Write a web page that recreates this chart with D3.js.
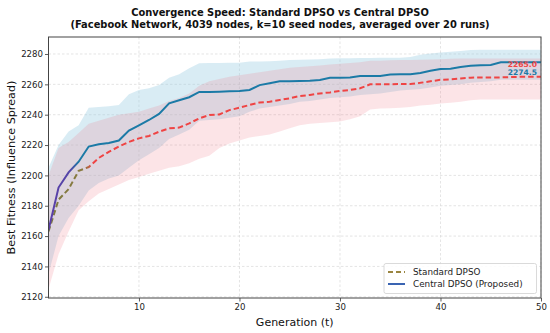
<!DOCTYPE html>
<html><head><meta charset="utf-8">
<script src="https://cdn.jsdelivr.net/npm/d3@7"></script>
<style>body{margin:0;background:#fff}svg{display:block;font-family:"DejaVu Sans",sans-serif}</style>
</head><body><svg id="c" width="550" height="333"></svg>
<script>
const generations = d3.range(1, 51);
const standardMean = [2163,2184,2191,2203,2205.5,2211.5,2215.5,2219,2222,2224.4,2226,2228.8,2231,2231.5,2234.3,2237.6,2239.8,2240.2,2243,2244.6,2246.4,2248,2248.6,2249.7,2250.8,2252.3,2253,2254,2254.7,2255.6,2256.3,2257.4,2260,2260,2260,2260.2,2260.2,2261,2262,2263,2263.3,2263.8,2264.4,2264.5,2264.5,2264.6,2264.8,2265,2265,2265];
const standardUpper = [2200,2218,2222,2228,2234,2236,2238,2240,2241,2242,2244,2246,2249,2251,2254,2259,2262,2263.5,2265,2266,2267,2268,2269,2270,2271,2271.5,2272,2272.5,2273,2273.5,2274,2274.5,2275.5,2275.6,2275.8,2276,2276,2276.2,2276.4,2276.6,2276.8,2277,2277,2277,2277,2277,2277,2277,2277,2277];
const standardLower = [2125,2148,2163,2177,2183,2188,2191,2194,2197,2199,2201,2203,2205,2206,2208,2211,2213,2218,2221,2223,2225,2226,2227,2229,2231,2233,2234,2234.5,2235,2235.5,2237,2239,2243.5,2244,2244.2,2244.5,2245,2246,2246.5,2247.3,2247.8,2248.5,2249.5,2250,2250,2250,2250,2250,2250,2250];
const centralMean = [2164,2192,2202,2209,2219,2220.5,2221.3,2223,2229.5,2233,2236.5,2240.5,2247.5,2249.5,2251.5,2255,2255,2255.2,2255.5,2255.6,2256.3,2259.5,2260.7,2262,2262,2262.2,2262.4,2262.8,2264.3,2264.4,2264.5,2265.5,2265.5,2265.5,2266.5,2266.6,2266.6,2267.5,2269,2270.1,2270.3,2271.5,2272.3,2272.6,2272.8,2274.5,2274.5,2274.5,2274.5,2274.5];
const centralUpper = [2205,2220,2229,2233,2244.6,2245,2245.5,2246.4,2253.4,2256.3,2257.4,2259.6,2264.4,2266.6,2270.6,2273.9,2274,2274.1,2274.2,2274.3,2275,2275,2275.2,2275.5,2276,2276.2,2276.4,2276.6,2277,2277.2,2277.2,2277.3,2277.4,2277.5,2277.5,2277.6,2278,2279.5,2280.4,2281,2281.5,2282,2282.6,2282.8,2282.8,2282.8,2282.8,2282.8,2282.8,2282.8];
const centralLower = [2135,2160,2172,2180,2190,2195,2198,2200,2205,2210,2214,2218,2224,2227,2230,2236,2236.5,2237,2238,2239,2242,2244,2245,2246,2247,2248.5,2249,2250,2251,2251.5,2252,2253,2253.5,2254,2255,2256,2256.5,2257,2258,2259,2259.5,2260,2261,2261.5,2262,2263,2263,2263,2263,2263];
const xTicks = [10,20,30,40,50];
const yTicks = [2120,2140,2160,2180,2200,2220,2240,2260,2280];
const titleLines = ["Convergence Speed: Standard DPSO vs Central DPSO","(Facebook Network, 4039 nodes, k=10 seed nodes, averaged over 20 runs)"];
const seriesNames = ["Standard DPSO","Central DPSO (Proposed)"];

const svg = d3.select("#c");
const L=48.5, R=541, T=37, B=298;
const x = d3.scaleLinear().domain([1,50]).range([L,R]);
const y = d3.scaleLinear().domain([2119.2,2291.2]).range([B,T]);

const defs = svg.append("defs");
defs.append("clipPath").attr("id","clip").append("rect").attr("x",L).attr("y",T).attr("width",R-L).attr("height",B-T);
const g1 = defs.append("linearGradient").attr("id","gc").attr("gradientUnits","userSpaceOnUse")
  .attr("x1",x(1)).attr("x2",x(50)).attr("y1",0).attr("y2",0);
const f = v => (x(v)-x(1))/(x(50)-x(1));
g1.append("stop").attr("offset",0).attr("stop-color","#5b3ea8");
g1.append("stop").attr("offset",f(3.2)).attr("stop-color","#5346a8");
g1.append("stop").attr("offset",f(4)).attr("stop-color","#1b7aa6");
g1.append("stop").attr("offset",1).attr("stop-color","#1b7aa6");
const g2 = defs.append("linearGradient").attr("id","gs").attr("gradientUnits","userSpaceOnUse")
  .attr("x1",x(1)).attr("x2",x(50)).attr("y1",0).attr("y2",0);
g2.append("stop").attr("offset",0).attr("stop-color","#7d7a40");
g2.append("stop").attr("offset",f(4.6)).attr("stop-color","#8a7a40");
g2.append("stop").attr("offset",f(5.4)).attr("stop-color","#ef4444");
g2.append("stop").attr("offset",1).attr("stop-color","#ef4444");

// grid
const grid = svg.append("g");
grid.selectAll(".gy").data(yTicks).join("line").attr("x1",L).attr("x2",R).attr("y1",d=>y(d)).attr("y2",d=>y(d))
  .attr("stroke","#d9d9d9").attr("stroke-width",0.7).attr("stroke-dasharray","2.5,2");
grid.selectAll(".gx").data(xTicks).join("line").attr("y1",T).attr("y2",B).attr("x1",d=>x(d)).attr("x2",d=>x(d))
  .attr("stroke","#d9d9d9").attr("stroke-width",0.7).attr("stroke-dasharray","2.5,2");

const plot = svg.append("g").attr("clip-path","url(#clip)");
const area = (lo,hi)=>d3.area().x((d,i)=>x(generations[i])).y0((d,i)=>y(lo[i])).y1((d,i)=>y(hi[i]));
plot.append("path").datum(generations).attr("d",area(centralLower,centralUpper)).attr("fill","#9fd0e4").attr("opacity",0.4);
plot.append("path").datum(generations).attr("d",area(standardLower,standardUpper)).attr("fill","#f07080").attr("opacity",0.19);

const line = arr => d3.line().x((d,i)=>x(generations[i])).y((d,i)=>y(arr[i]));
plot.append("path").datum(generations).attr("d",line(standardMean)).attr("fill","none").attr("stroke","url(#gs)")
  .attr("stroke-width",2).attr("stroke-dasharray","5.5,3");
plot.append("path").datum(generations).attr("d",line(centralMean)).attr("fill","none").attr("stroke","url(#gc)")
  .attr("stroke-width",2);

// axes
const ax = svg.append("g").attr("transform",`translate(0,${B})`).call(d3.axisBottom(x).tickValues(xTicks).tickFormat(d3.format("d")).tickSize(3.5).tickPadding(2));
const ay = svg.append("g").attr("transform",`translate(${L},0)`).call(d3.axisLeft(y).tickValues(yTicks).tickFormat(d3.format("d")).tickSize(3.5).tickPadding(2));
[ax,ay].forEach(a=>{a.select(".domain").remove();a.selectAll("text").attr("font-size",8.6).attr("fill","#222").attr("font-family","DejaVu Sans");a.selectAll("line").attr("stroke","#333").attr("stroke-width",0.8);});
svg.append("rect").attr("x",L).attr("y",T).attr("width",R-L).attr("height",B-T).attr("fill","none").attr("stroke","#444").attr("stroke-width",1);

// end labels
svg.append("text").attr("x",537).attr("y",67).attr("text-anchor","end").attr("font-size",7.6).attr("font-weight","bold").attr("fill","#ef4444").text(standardMean[49].toFixed(1));
svg.append("text").attr("x",537).attr("y",75).attr("text-anchor","end").attr("font-size",7.6).attr("font-weight","bold").attr("fill","#1b7aa6").text(centralMean[49].toFixed(1));

// title
const tc = 280;
svg.append("text").attr("x",tc).attr("y",15.7).attr("text-anchor","middle").attr("font-size",9.9).attr("font-weight","bold").attr("fill","#111").text(titleLines[0]);
svg.append("text").attr("x",tc).attr("y",27.5).attr("text-anchor","middle").attr("font-size",9.9).attr("font-weight","bold").attr("fill","#111").text(titleLines[1]);
// axis labels
svg.append("text").attr("x",(L+R)/2).attr("y",326).attr("text-anchor","middle").attr("font-size",11).attr("fill","#111").text("Generation (t)");
svg.append("text").attr("transform",`translate(15,${(T+B)/2}) rotate(-90)`).attr("text-anchor","middle").attr("font-size",11.2).attr("fill","#111").text("Best Fitness (Influence Spread)");

// legend
const lg = svg.append("g");
lg.append("rect").attr("x",384).attr("y",263.5).attr("width",152.5).attr("height",30).attr("rx",2).attr("fill","#fff").attr("fill-opacity",0.85).attr("stroke","#d0d0d0").attr("stroke-width",0.8);
const items = [{name:seriesNames[0],color:"#9a8540",dash:"5,3",yy:272},{name:seriesNames[1],color:"#3a64b2",dash:null,yy:284}];
items.forEach(it=>{
  lg.append("line").attr("x1",388).attr("x2",405).attr("y1",it.yy).attr("y2",it.yy).attr("stroke",it.color).attr("stroke-width",2).attr("stroke-dasharray",it.dash);
  lg.append("text").attr("x",413).attr("y",it.yy+3.2).attr("font-size",8.8).attr("fill","#222").text(it.name);
});
</script></body></html>
